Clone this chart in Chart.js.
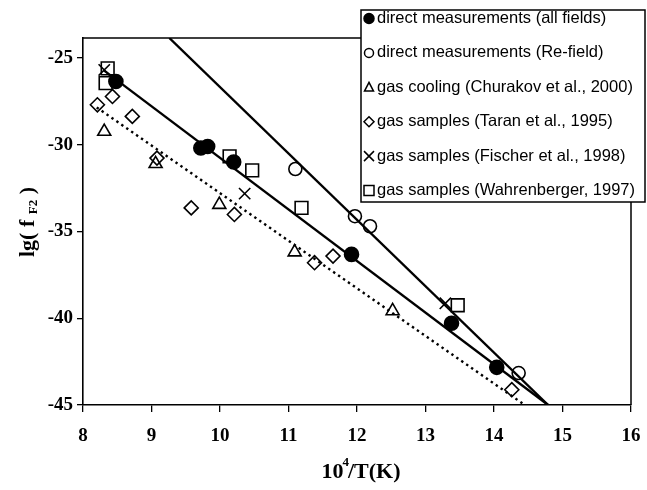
<!DOCTYPE html>
<html><head><meta charset="utf-8">
<script src="https://cdn.jsdelivr.net/npm/chart.js@4"></script>
<style>html,body{margin:0;padding:0;background:#fff;overflow:hidden}#wrap{width:647px;height:490px;position:relative}</style>
</head><body><div id="wrap"><canvas id="c"></canvas></div>
<script>
// ---- data ----
const xTicks = [8, 9, 10, 11, 12, 13, 14, 15, 16];
const yTicks = [-45, -40, -35, -30, -25];
const xMin = 8, xMax = 16, yMin = -45, yMax = -23.85;

const directAllX = [8.48, 9.72, 9.82, 10.20, 11.92, 13.38, 14.04];
const directAllY = [-26.36, -30.19, -30.10, -31.0, -36.32, -40.29, -42.83];
const directReX = [11.10, 11.97, 12.19, 14.36];
const directReY = [-31.4, -34.12, -34.7, -43.16];
const coolingX = [8.31, 9.06, 9.99, 11.09, 12.52];
const coolingY = [-29.24, -31.1, -33.45, -36.19, -39.58];
const taranX = [8.21, 8.43, 8.72, 9.08, 9.58, 10.21, 11.38, 11.65, 14.26];
const taranY = [-27.70, -27.22, -28.37, -30.77, -33.64, -34.02, -36.8, -36.42, -44.12];
const fischerX = [8.31, 10.36, 13.29];
const fischerY = [-25.69, -32.82, -39.14];
const wahrX = [8.36, 8.33, 10.14, 10.47, 11.19, 13.47];
const wahrY = [-25.6, -26.45, -30.67, -31.48, -33.64, -39.25];

const fitReX = [9.26, 14.79];
const fitReY = [-23.85, -45];
const fitAllX = [8.3, 14.79];
const fitAllY = [-25.7, -45];
const fitGasX = [8.2, 14.45];
const fitGasY = [-27.85, -45];

const legendLabels = [
  'direct measurements (all fields)',
  'direct measurements (Re-field)',
  'gas cooling (Churakov et al., 2000)',
  'gas samples (Taran et al., 1995)',
  'gas samples (Fischer et al., 1998)',
  'gas samples (Wahrenberger, 1997)'
];
const xTitleMain = '10', xTitleSup = '4', xTitleRest = '/T(K)';
const yTitleMain = 'lg( f ', yTitleSub = 'F2', yTitleEnd = ' )';

// ---- build ----
const pts = (xs, ys) => xs.map((x, i) => ({ x: x, y: ys[i] }));
const markerStyles = ['circle', 'circle', 'triangle', 'rectRot', 'crossRot', 'rect'];
const markerFill = ['#000', 'rgba(0,0,0,0)', 'rgba(0,0,0,0)', 'rgba(0,0,0,0)', 'rgba(0,0,0,0)', 'rgba(0,0,0,0)'];
const markerRadius = [7, 6.5, 7.5, 7, 8, 9];
const seriesX = [directAllX, directReX, coolingX, taranX, fischerX, wahrX];
const seriesY = [directAllY, directReY, coolingY, taranY, fischerY, wahrY];

const datasets = seriesX.map((xs, i) => ({
  label: legendLabels[i],
  data: pts(xs, seriesY[i]),
  showLine: false,
  pointStyle: markerStyles[i],
  pointRadius: markerRadius[i],
  pointHoverRadius: markerRadius[i],
  pointBackgroundColor: markerFill[i],
  pointBorderColor: '#000',
  pointBorderWidth: 1.6
}));
datasets.push({ label: 'fitRe', data: pts(fitReX, fitReY), showLine: true, borderColor: '#000', borderWidth: 2.4, pointRadius: 0 });
datasets.push({ label: 'fitAll', data: pts(fitAllX, fitAllY), showLine: true, borderColor: '#000', borderWidth: 2.4, pointRadius: 0 });
datasets.push({ label: 'fitGas', data: pts(fitGasX, fitGasY), showLine: true, borderColor: '#000', borderWidth: 2.4, borderDash: [2.4, 3.6], pointRadius: 0 });

function drawMarker(ctx, style, x, y, r, fill) {
  ctx.save();
  ctx.strokeStyle = '#000'; ctx.lineWidth = 1.5; ctx.fillStyle = '#000';
  ctx.beginPath();
  if (style === 'circle') { ctx.arc(x, y, r, 0, Math.PI * 2); }
  else if (style === 'triangle') { ctx.moveTo(x, y - r); ctx.lineTo(x + r * 0.9, y + r * 0.75); ctx.lineTo(x - r * 0.9, y + r * 0.75); ctx.closePath(); }
  else if (style === 'rectRot') { ctx.moveTo(x, y - r); ctx.lineTo(x + r, y); ctx.lineTo(x, y + r); ctx.lineTo(x - r, y); ctx.closePath(); }
  else if (style === 'crossRot') { ctx.moveTo(x - r, y - r); ctx.lineTo(x + r, y + r); ctx.moveTo(x + r, y - r); ctx.lineTo(x - r, y + r); }
  else if (style === 'rect') { ctx.rect(x - r, y - r, 2 * r, 2 * r); }
  if (fill) ctx.fill();
  ctx.stroke();
  ctx.restore();
}

const deco = {
  id: 'deco',
  afterDatasetsDraw(chart) {
    const ctx = chart.ctx, a = chart.chartArea;
    ctx.save();
    ctx.strokeStyle = '#000'; ctx.lineWidth = 1.5;
    ctx.beginPath();
    ctx.moveTo(a.left, a.top); ctx.lineTo(a.right, a.top); ctx.lineTo(a.right, a.bottom);
    ctx.stroke();
    // legend
    const lx = 361, ly = 10, lw = 284, lh = 192;
    ctx.fillStyle = '#fff'; ctx.fillRect(lx, ly, lw, lh);
    ctx.lineWidth = 1.5; ctx.strokeRect(lx, ly, lw, lh);
    ctx.font = '16.5px "Liberation Sans", Arial, sans-serif';
    ctx.textBaseline = 'middle'; ctx.textAlign = 'left';
    const legR = [5, 4.5, 5, 5, 5, 5];
    legendLabels.forEach((t, i) => {
      const y = 18.5 + i * 34.4;
      drawMarker(ctx, markerStyles[i], 369, y, legR[i], i === 0);
      ctx.fillStyle = '#000';
      ctx.fillText(t, 377, y);
    });
    // y title
    ctx.save();
    ctx.translate(27, 222);
    ctx.rotate(-Math.PI / 2);
    const fBig = 'bold 22px "Liberation Serif", "Times New Roman", serif';
    const fSmall = 'bold 13px "Liberation Serif", "Times New Roman", serif';
    ctx.font = fBig; const w1 = ctx.measureText(yTitleMain).width; const w3 = ctx.measureText(yTitleEnd).width;
    ctx.font = fSmall; const w2 = ctx.measureText(yTitleSub).width;
    let sx = -(w1 + w2 + w3) / 2;
    ctx.textBaseline = 'alphabetic'; ctx.fillStyle = '#000';
    ctx.font = fBig; ctx.fillText(yTitleMain, sx, 7); sx += w1;
    ctx.font = fSmall; ctx.fillText(yTitleSub, sx, 10); sx += w2;
    ctx.font = fBig; ctx.fillText(yTitleEnd, sx, 7);
    ctx.restore();
    // x title
    ctx.font = fBig; const a1 = ctx.measureText(xTitleMain).width; const a3 = ctx.measureText(xTitleRest).width;
    ctx.font = fSmall; const a2 = ctx.measureText(xTitleSup).width;
    let tx = 362 - (a1 + a2 + a3) / 2;
    ctx.textBaseline = 'alphabetic';
    ctx.font = fBig; ctx.fillText(xTitleMain, tx, 478); tx += a1;
    ctx.font = fSmall; ctx.fillText(xTitleSup, tx - 1, 466); tx += a2 - 2;
    ctx.font = fBig; ctx.fillText(xTitleRest, tx, 478);
    ctx.restore();
  }
};

const tickFont = { family: '"Liberation Serif", "Times New Roman", serif', size: 19, weight: 'bold' };

new Chart(document.getElementById('c'), {
  type: 'scatter',
  data: { datasets: datasets },
  options: {
    responsive: true, maintainAspectRatio: false, animation: false,
    layout: { padding: { left: 0, top: 38, right: 16, bottom: 0 } },
    plugins: { legend: { display: false }, tooltip: { enabled: false } },
    scales: {
      x: {
        type: 'linear', min: xMin, max: xMax,
        afterBuildTicks: s => { s.ticks = xTicks.map(v => ({ value: v })); },
        afterFit: s => { s.height = 85; s.paddingLeft = 0; s.paddingRight = 0; },
        grid: { drawOnChartArea: false, drawTicks: true, tickLength: 7, color: '#000', lineWidth: 1.3 },
        border: { display: true, color: '#000', width: 1.6 },
        ticks: { color: '#000', font: tickFont, padding: 13, maxRotation: 0 }
      },
      y: {
        type: 'linear', min: yMin, max: yMax,
        afterBuildTicks: s => { s.ticks = yTicks.map(v => ({ value: v })); },
        afterFit: s => { s.width = 83; s.paddingTop = 0; s.paddingBottom = 0; },
        grid: { drawOnChartArea: false, drawTicks: true, tickLength: 6, color: '#000', lineWidth: 1.3 },
        border: { display: true, color: '#000', width: 1.6 },
        ticks: { color: '#000', font: tickFont, padding: 4 }
      }
    }
  },
  plugins: [deco]
});
</script>
</body></html>
